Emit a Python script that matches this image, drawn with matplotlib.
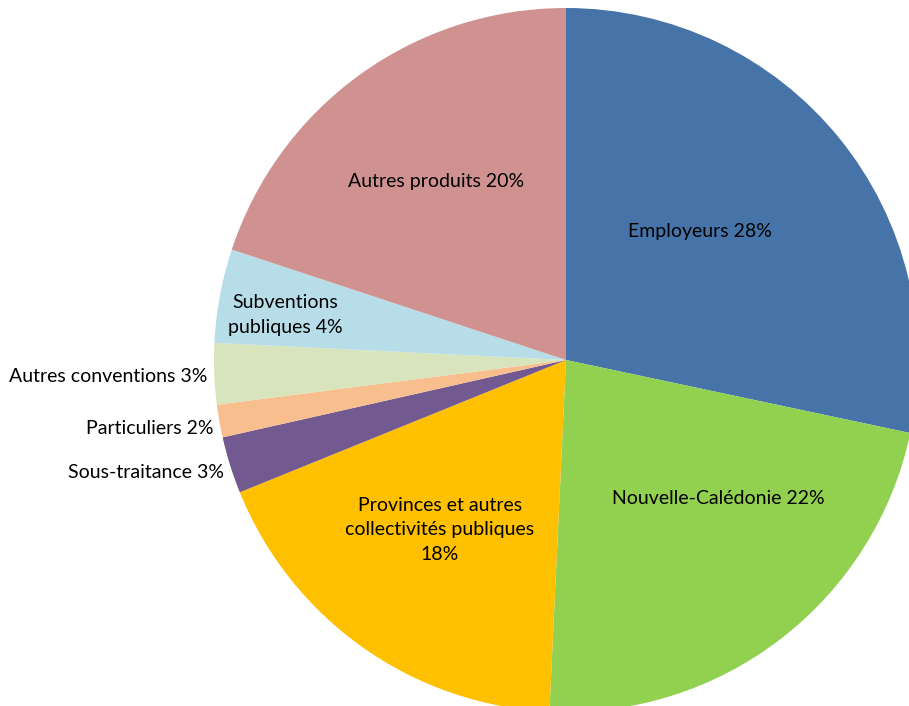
import matplotlib
matplotlib.use("Agg")
import matplotlib.pyplot as plt

categories = ["Employeurs", "Nouvelle-Calédonie", "Provinces et autres collectivités publiques",
              "Sous-traitance", "Particuliers", "Autres conventions",
              "Subventions publiques", "Autres produits"]
values = [28.3, 22.4, 18.1, 2.6, 1.5, 2.8, 4.3, 19.9]
label_texts = ["Employeurs 28%", "Nouvelle-Calédonie 22%",
               "Provinces et autres\ncollectivités publiques\n18%",
               "Sous-traitance 3%", "Particuliers 2%", "Autres conventions 3%",
               "Subventions\npubliques 4%", "Autres produits 20%"]
colors = ["#4674A8", "#92D050", "#FFC000", "#72598F", "#F9BE8E", "#D8E4BC", "#B7DDE8", "#D09191"]

W, H = 909, 706
fig = plt.figure(figsize=(W / 100, H / 100), dpi=100)
ax = fig.add_axes([0, 0, 1, 1])

cx, cy, r = 566, H - 360, 352
ax.pie(values, colors=colors, startangle=90, counterclock=False,
       center=(cx, cy), radius=r, frame=True, wedgeprops=dict(linewidth=0))
ax.set_xlim(0, W)
ax.set_ylim(0, H)
ax.set_aspect("equal")
ax.axis("off")

# label placements (pixel coords from top-left)
placements = [
    (700, 232, "center"),
    (718, 498, "center"),
    (440, 530, "center"),
    (224, 472, "right"),
    (214, 429, "right"),
    (207, 377, "right"),
    (285, 315, "center"),
    (436, 181, "center"),
]
for txt, (px, py, ha) in zip(label_texts, placements):
    ax.text(px, H - py, txt, ha=ha, va="center", fontsize=14, family=["Lato", "DejaVu Sans"],
            color="black", linespacing=1.55, multialignment="center")

fig.savefig("out.png", dpi=100)
